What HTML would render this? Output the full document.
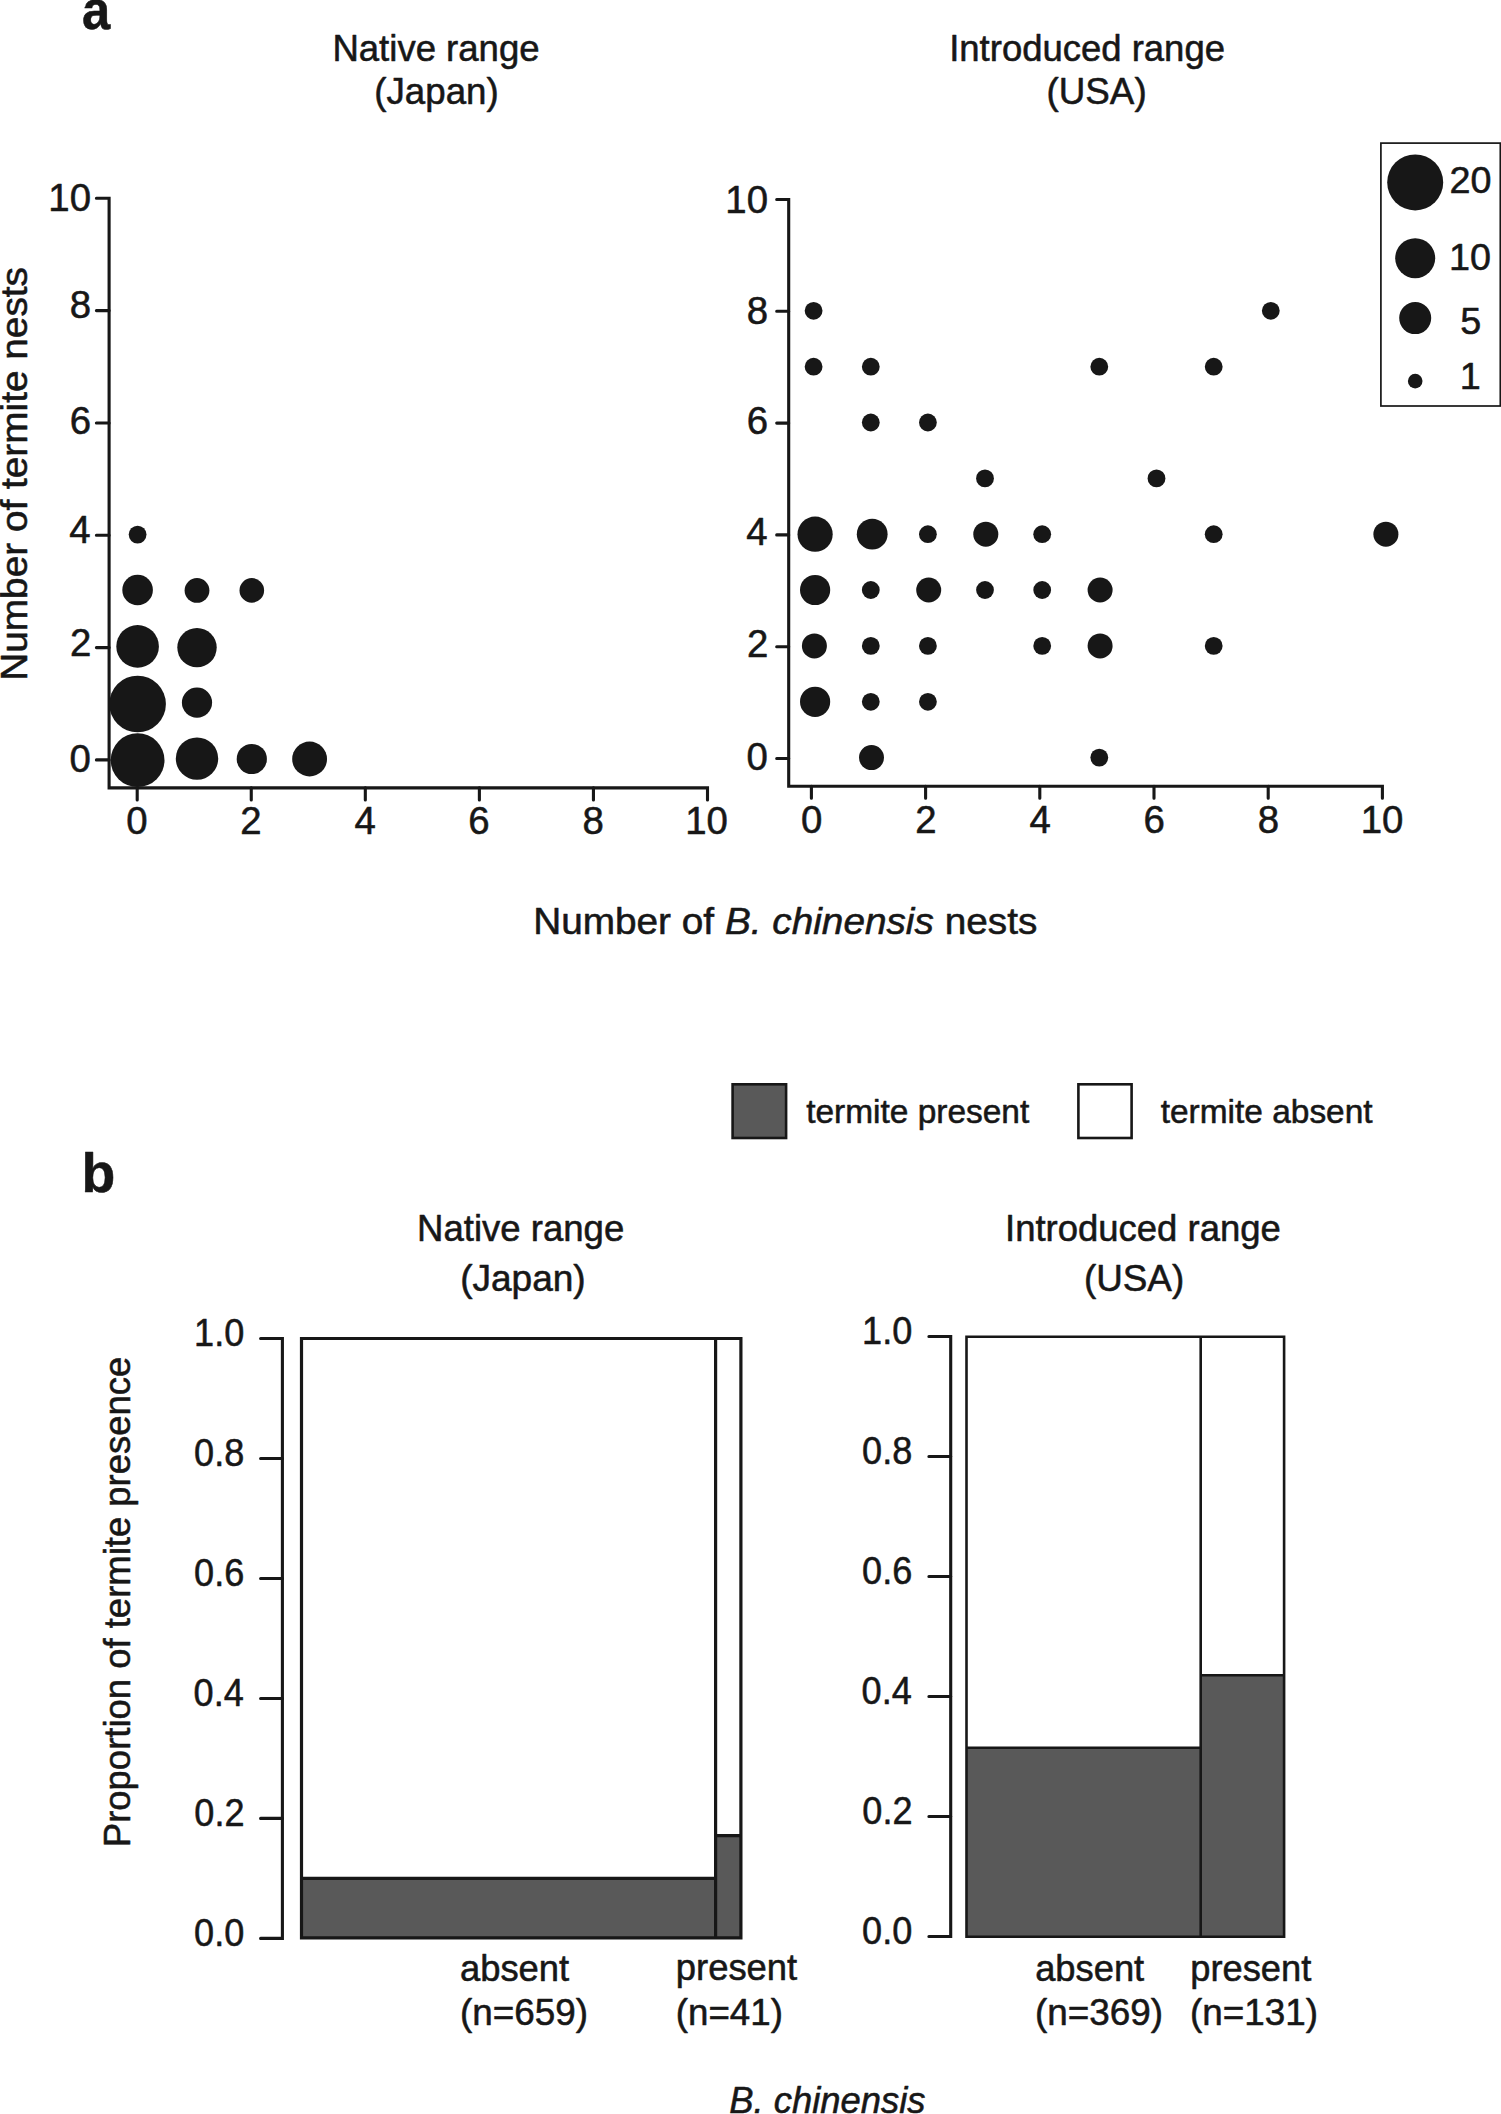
<!DOCTYPE html>
<html lang="en"><head><meta charset="utf-8"><title>Figure</title>
<style>html,body{margin:0;padding:0;background:#fff}svg{display:block}text{font-family:'Liberation Sans', Arial, Helvetica, sans-serif;fill:#171717;stroke:#171717;stroke-width:0.55px;stroke-linejoin:round}</style></head>
<body>
<svg width="1501" height="2114" viewBox="0 0 1501 2114" role="img" aria-label="Figure: termite nests versus B. chinensis nests in native and introduced ranges">
<rect width="1501" height="2114" fill="#fff"/>
<g fill="none" stroke="#171717" stroke-width="3.1" stroke-linecap="round" stroke-linejoin="miter">
<path d="M96.4,198.30 H109.1 V787.9 H707.50 V799.9"/>
<path d="M96.4,759.90 H109.1 M137.20,787.9 V799.9 M96.4,647.58 H109.1 M251.26,787.9 V799.9 M96.4,535.26 H109.1 M365.32,787.9 V799.9 M96.4,422.94 H109.1 M479.38,787.9 V799.9 M96.4,310.62 H109.1 M593.44,787.9 V799.9"/>
<path d="M776.7,199.50 H788.7 V786.3 H1382.40 V798.2"/>
<path d="M776.7,758.50 H788.7 M811.40,786.3 V798.2 M776.7,646.70 H788.7 M925.60,786.3 V798.2 M776.7,534.90 H788.7 M1039.80,786.3 V798.2 M776.7,423.10 H788.7 M1154.00,786.3 V798.2 M776.7,311.30 H788.7 M1268.20,786.3 V798.2"/>
<path d="M260.6,1338.5 H282.4 V1938.4 H260.6"/>
<path d="M260.6,1818.42 H282.4 M260.6,1698.44 H282.4 M260.6,1578.46 H282.4 M260.6,1458.48 H282.4"/>
<path d="M928.9,1336.5 H950.7 V1936.5 H928.9"/>
<path d="M928.9,1816.50 H950.7 M928.9,1696.50 H950.7 M928.9,1576.50 H950.7 M928.9,1456.50 H950.7"/>
</g>
<g fill="#171717">
<circle cx="137.6" cy="534.6" r="8.9"/>
<circle cx="137.6" cy="590.0" r="15.3"/>
<circle cx="197.0" cy="590.4" r="12.4"/>
<circle cx="251.8" cy="590.4" r="12.3"/>
<circle cx="137.6" cy="646.4" r="21.3"/>
<circle cx="197.0" cy="647.6" r="19.7"/>
<circle cx="137.6" cy="704.0" r="28.3"/>
<circle cx="197.0" cy="702.6" r="15.1"/>
<circle cx="137.6" cy="760.2" r="26.9"/>
<circle cx="197.0" cy="758.6" r="21.2"/>
<circle cx="251.8" cy="759.0" r="15.1"/>
<circle cx="309.6" cy="759.0" r="17.4"/>
<circle cx="813.6" cy="310.8" r="8.9"/>
<circle cx="813.6" cy="366.7" r="8.9"/>
<circle cx="870.8" cy="366.7" r="8.9"/>
<circle cx="1099.3" cy="366.7" r="8.9"/>
<circle cx="1213.7" cy="366.7" r="8.9"/>
<circle cx="1270.8" cy="310.8" r="8.9"/>
<circle cx="870.8" cy="422.5" r="8.9"/>
<circle cx="927.9" cy="422.5" r="8.9"/>
<circle cx="985.0" cy="478.4" r="8.9"/>
<circle cx="1156.5" cy="478.4" r="8.9"/>
<circle cx="815.1" cy="534.2" r="17.6"/>
<circle cx="872.2" cy="534.2" r="15.4"/>
<circle cx="927.9" cy="534.2" r="8.9"/>
<circle cx="985.8" cy="534.2" r="12.5"/>
<circle cx="1042.2" cy="534.2" r="8.9"/>
<circle cx="1213.7" cy="534.2" r="8.9"/>
<circle cx="1385.9" cy="534.2" r="12.5"/>
<circle cx="815.1" cy="590.0" r="15.1"/>
<circle cx="870.8" cy="590.0" r="8.9"/>
<circle cx="928.7" cy="590.0" r="12.5"/>
<circle cx="985.0" cy="590.0" r="8.9"/>
<circle cx="1042.2" cy="590.0" r="8.9"/>
<circle cx="1100.1" cy="590.0" r="12.5"/>
<circle cx="814.4" cy="645.9" r="12.5"/>
<circle cx="870.8" cy="645.9" r="8.9"/>
<circle cx="927.9" cy="645.9" r="8.9"/>
<circle cx="1042.2" cy="645.9" r="8.9"/>
<circle cx="1100.1" cy="645.9" r="12.5"/>
<circle cx="1213.7" cy="645.9" r="8.9"/>
<circle cx="815.1" cy="701.8" r="15.1"/>
<circle cx="870.8" cy="701.8" r="8.9"/>
<circle cx="927.9" cy="701.8" r="8.9"/>
<circle cx="871.5" cy="757.6" r="12.5"/>
<circle cx="1099.3" cy="757.6" r="8.9"/>
<circle cx="1415.2" cy="182.4" r="28.0"/>
<circle cx="1415.2" cy="258.2" r="20.0"/>
<circle cx="1415.2" cy="318.1" r="16.0"/>
<circle cx="1415.2" cy="381.1" r="7.3"/>
</g>
<rect x="1380.9" y="143.1" width="119.4" height="262.9" fill="none" stroke="#171717" stroke-width="1.7"/>
<rect x="732.6" y="1084.3" width="53.5" height="53.7" fill="#595959" stroke="#171717" stroke-width="2.6"/>
<rect x="1078.4" y="1084.3" width="53.2" height="53.7" fill="#fff" stroke="#171717" stroke-width="2.6"/>
<rect x="301.5" y="1338.5" width="439.40" height="599.40" fill="#fff"/>
<rect x="301.5" y="1878.3" width="414.10" height="59.60" fill="#595959"/>
<rect x="715.6" y="1835.6" width="25.30" height="102.30" fill="#595959"/>
<path d="M301.5,1338.5 H740.9 V1937.9 H301.5 Z M715.6,1338.5 V1937.9 M301.5,1878.3 H715.6 M715.6,1835.6 H740.9" fill="none" stroke="#171717" stroke-width="3.2" stroke-linejoin="miter"/>
<rect x="966.5" y="1336.7" width="317.60" height="600.00" fill="#fff"/>
<rect x="966.5" y="1747.8" width="234.20" height="188.90" fill="#595959"/>
<rect x="1200.7" y="1675.3" width="83.40" height="261.40" fill="#595959"/>
<path d="M966.5,1336.7 H1284.1 V1936.7 H966.5 Z M1200.7,1336.7 V1936.7 M966.5,1747.8 H1200.7 M1200.7,1675.3 H1284.1" fill="none" stroke="#171717" stroke-width="2.6" stroke-linejoin="miter"/>
<g>
<text xml:space="preserve" transform="translate(81.95,28.90) scale(0.9233,1)" font-size="55"><tspan font-weight="bold">a</tspan></text>
<text xml:space="preserve" transform="translate(81.43,1192.00) scale(1.0053,1)" font-size="55"><tspan font-weight="bold">b</tspan></text>
<text xml:space="preserve" transform="translate(332.42,60.60) scale(1.0095,1)" font-size="36.2">Native range</text>
<text xml:space="preserve" transform="translate(374.27,103.90) scale(1.0139,1)" font-size="36.2">(Japan)</text>
<text xml:space="preserve" transform="translate(949.18,60.50) scale(1.0080,1)" font-size="36.2">Introduced range</text>
<text xml:space="preserve" transform="translate(1046.57,104.00) scale(1.0159,1)" font-size="36.2">(USA)</text>
<text xml:space="preserve" transform="translate(26.60,680.75) rotate(-90) scale(1.0716,1)" font-size="36.2">Number of termite nests</text>
<text xml:space="preserve" transform="translate(533.16,933.60) scale(1.0708,1)" font-size="36.2">Number of <tspan font-style="italic">B. chinensis</tspan> nests</text>
<text xml:space="preserve" transform="translate(806.14,1122.70) scale(1.0267,1)" font-size="32.6">termite present</text>
<text xml:space="preserve" transform="translate(1160.74,1122.70) scale(1.0259,1)" font-size="32.6">termite absent</text>
<text xml:space="preserve" transform="translate(417.12,1241.00) scale(1.0095,1)" font-size="36.2">Native range</text>
<text xml:space="preserve" transform="translate(460.15,1290.70) scale(1.0232,1)" font-size="36.2">(Japan)</text>
<text xml:space="preserve" transform="translate(1005.08,1240.60) scale(1.0076,1)" font-size="36.2">Introduced range</text>
<text xml:space="preserve" transform="translate(1083.97,1290.90) scale(1.0169,1)" font-size="36.2">(USA)</text>
<text xml:space="preserve" transform="translate(130.40,1847.17) rotate(-90) scale(1.0074,1)" font-size="36.2">Proportion of termite presence</text>
<text xml:space="preserve" transform="translate(729.25,2113.20) scale(1.0065,1)" font-size="36.2"><tspan font-style="italic">B. chinensis</tspan></text>
<text xml:space="preserve" transform="translate(459.94,1980.50) scale(1.0056,1)" font-size="36.2">absent</text>
<text xml:space="preserve" transform="translate(459.96,2024.70) scale(1.0185,1)" font-size="36.2">(n=659)</text>
<text xml:space="preserve" transform="translate(675.79,1980.30) scale(1.0063,1)" font-size="36.2">present</text>
<text xml:space="preserve" transform="translate(675.77,2024.50) scale(1.0143,1)" font-size="36.2">(n=41)</text>
<text xml:space="preserve" transform="translate(1035.15,1980.50) scale(1.0037,1)" font-size="36.2">absent</text>
<text xml:space="preserve" transform="translate(1034.96,2024.70) scale(1.0185,1)" font-size="36.2">(n=369)</text>
<text xml:space="preserve" transform="translate(1190.19,1980.50) scale(1.0029,1)" font-size="36.2">present</text>
<text xml:space="preserve" transform="translate(1189.96,2024.70) scale(1.0185,1)" font-size="36.2">(n=131)</text>
<text xml:space="preserve" transform="translate(69.50,772.10) scale(1.0100,1)" font-size="38.0">0</text>
<text xml:space="preserve" transform="translate(126.17,833.60) scale(1.0100,1)" font-size="38.0">0</text>
<text xml:space="preserve" transform="translate(746.50,769.80) scale(1.0100,1)" font-size="38.0">0</text>
<text xml:space="preserve" transform="translate(800.97,833.20) scale(1.0100,1)" font-size="38.0">0</text>
<text xml:space="preserve" transform="translate(70.00,655.90) scale(1.0100,1)" font-size="38.0">2</text>
<text xml:space="preserve" transform="translate(240.23,833.60) scale(1.0100,1)" font-size="38.0">2</text>
<text xml:space="preserve" transform="translate(747.00,657.10) scale(1.0100,1)" font-size="38.0">2</text>
<text xml:space="preserve" transform="translate(915.17,833.20) scale(1.0100,1)" font-size="38.0">2</text>
<text xml:space="preserve" transform="translate(69.25,543.40) scale(1.0100,1)" font-size="38.0">4</text>
<text xml:space="preserve" transform="translate(354.54,833.60) scale(1.0100,1)" font-size="38.0">4</text>
<text xml:space="preserve" transform="translate(746.25,545.00) scale(1.0100,1)" font-size="38.0">4</text>
<text xml:space="preserve" transform="translate(1029.62,833.20) scale(1.0100,1)" font-size="38.0">4</text>
<text xml:space="preserve" transform="translate(69.75,433.80) scale(1.0100,1)" font-size="38.0">6</text>
<text xml:space="preserve" transform="translate(468.22,833.60) scale(1.0100,1)" font-size="38.0">6</text>
<text xml:space="preserve" transform="translate(746.75,434.00) scale(1.0100,1)" font-size="38.0">6</text>
<text xml:space="preserve" transform="translate(1143.44,833.20) scale(1.0100,1)" font-size="38.0">6</text>
<text xml:space="preserve" transform="translate(69.75,318.40) scale(1.0100,1)" font-size="38.0">8</text>
<text xml:space="preserve" transform="translate(582.41,833.60) scale(1.0100,1)" font-size="38.0">8</text>
<text xml:space="preserve" transform="translate(746.75,324.30) scale(1.0100,1)" font-size="38.0">8</text>
<text xml:space="preserve" transform="translate(1257.77,833.20) scale(1.0100,1)" font-size="38.0">8</text>
<text xml:space="preserve" transform="translate(48.29,211.30) scale(1.0100,1)" font-size="38.0">10</text>
<text xml:space="preserve" transform="translate(685.23,833.60) scale(1.0100,1)" font-size="38.0">10</text>
<text xml:space="preserve" transform="translate(725.29,212.50) scale(1.0100,1)" font-size="38.0">10</text>
<text xml:space="preserve" transform="translate(1360.73,833.20) scale(1.0100,1)" font-size="38.0">10</text>
<text xml:space="preserve" transform="translate(1449.49,193.30) scale(1.0100,1)" font-size="37.4">20</text>
<text xml:space="preserve" transform="translate(1448.99,270.30) scale(1.0100,1)" font-size="37.4">10</text>
<text xml:space="preserve" transform="translate(1460.22,333.60) scale(1.0100,1)" font-size="37.4">5</text>
<text xml:space="preserve" transform="translate(1459.72,388.70) scale(1.0100,1)" font-size="37.4">1</text>
<text xml:space="preserve" transform="translate(194.07,1945.70) scale(0.9500,1)" font-size="38.0">0.0</text>
<text xml:space="preserve" transform="translate(862.08,1943.80) scale(0.9500,1)" font-size="38.0">0.0</text>
<text xml:space="preserve" transform="translate(194.31,1825.70) scale(0.9500,1)" font-size="38.0">0.2</text>
<text xml:space="preserve" transform="translate(862.31,1823.80) scale(0.9500,1)" font-size="38.0">0.2</text>
<text xml:space="preserve" transform="translate(193.60,1705.70) scale(0.9500,1)" font-size="38.0">0.4</text>
<text xml:space="preserve" transform="translate(861.60,1703.80) scale(0.9500,1)" font-size="38.0">0.4</text>
<text xml:space="preserve" transform="translate(194.07,1585.70) scale(0.9500,1)" font-size="38.0">0.6</text>
<text xml:space="preserve" transform="translate(862.08,1583.80) scale(0.9500,1)" font-size="38.0">0.6</text>
<text xml:space="preserve" transform="translate(194.07,1465.70) scale(0.9500,1)" font-size="38.0">0.8</text>
<text xml:space="preserve" transform="translate(862.08,1463.80) scale(0.9500,1)" font-size="38.0">0.8</text>
<text xml:space="preserve" transform="translate(194.07,1345.70) scale(0.9500,1)" font-size="38.0">1.0</text>
<text xml:space="preserve" transform="translate(862.08,1343.80) scale(0.9500,1)" font-size="38.0">1.0</text>
</g>
</svg>
</body></html>
